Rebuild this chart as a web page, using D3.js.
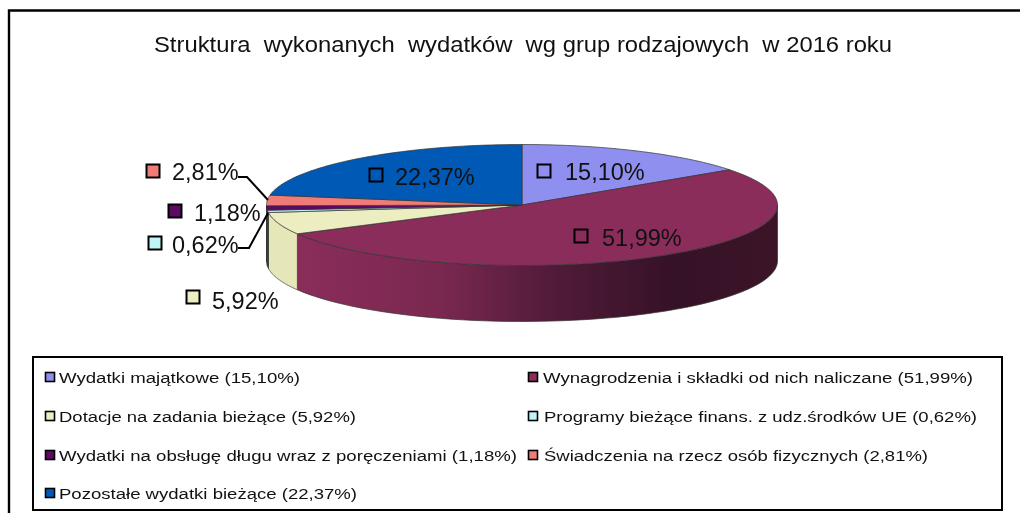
<!DOCTYPE html>
<html><head><meta charset="utf-8">
<script src="https://cdn.jsdelivr.net/npm/d3@7"></script>
<style>html,body{margin:0;background:#fff}svg{display:block;filter:blur(0.35px)}text{font-family:"Liberation Sans",Arial,sans-serif;fill:#111}</style>
</head><body><svg id="c" width="1020" height="513"></svg>
<script>
const chartTitle = "Struktura  wykonanych  wydatków  wg grup rodzajowych  w 2016 roku";
const categories = ["Wydatki majątkowe","Wynagrodzenia i składki od nich naliczane","Dotacje na zadania bieżące","Programy bieżące finans. z udz.środków UE","Wydatki na obsługę długu wraz z poręczeniami","Świadczenia na rzecz osób fizycznych","Pozostałe wydatki bieżące"];
const values = [15.10,51.99,5.92,0.62,1.18,2.81,22.37];
const valueLabels = ["15,10%","51,99%","5,92%","0,62%","1,18%","2,81%","22,37%"];
const topColors = ["#8f8ff0","#8a2d5a","#ecedc0","#bff5f8","#5c0a62","#f07c78","#0059b5"];
const wallColors = ["#6a6ab0","#8a2d5a","#e6e7b8","#556","#4a4a55","#55555f","#004a99"];

const svg = d3.select("#c");
const cx=522, cy=205, rx=255.5, ry=60.5, depth=56;
const px = d3.scaleLinear().domain([-1,1]).range([cx-rx,cx+rx]);
const py = d3.scaleLinear().domain([-1,1]).range([cy-ry,cy+ry]);
const arcs = d3.pie().sort(null).value(d=>d)(values);
const pt = a => [px(Math.sin(a)), py(-Math.cos(a))];
const rim = (a0,a1) => d3.range(0,61).map(i=>pt(a0+(a1-a0)*i/60));
const line = d3.line();

// frame: left and top only, running off the right and bottom edges
svg.append("path").attr("d","M9,513V10.5H1020").attr("fill","none").attr("stroke","#000").attr("stroke-width",2.4);
svg.append("text").attr("x",154).attr("y",52).attr("font-size",22).attr("textLength",738).attr("lengthAdjust","spacingAndGlyphs").style("white-space","pre").text(chartTitle);

// wall gradient
const defs = svg.append("defs");
const g = defs.append("linearGradient").attr("id","wall").attr("gradientUnits","userSpaceOnUse").attr("x1",296).attr("x2",778).attr("y1",0).attr("y2",0);
[[0,"#8a2d5a"],[0.3,"#7a2850"],[0.55,"#4e1a38"],[0.78,"#361226"],[1,"#3c1428"]].forEach(s=>g.append("stop").attr("offset",s[0]).attr("stop-color",s[1]));

arcs.forEach((d,i)=>{
  const a0=Math.max(d.startAngle,Math.PI/2), a1=Math.min(d.endAngle,Math.PI*1.5);
  if(a1<=a0) return;
  const top=rim(a0,a1), bot=top.map(p=>[p[0],p[1]+depth]).reverse();
  svg.append("path").attr("d",line(top.concat(bot))+"Z")
    .attr("fill", i===1?"url(#wall)":wallColors[i]).attr("stroke","#333").attr("stroke-width",0.7);
});
arcs.forEach((d,i)=>{
  svg.append("path").attr("d",line([[cx,cy]].concat(rim(d.startAngle,d.endAngle)))+"Z")
    .attr("fill",topColors[i]).attr("stroke","#333").attr("stroke-width",0.7);
});

// data labels
const lab = [[544,171,565,180],[581,236,602,246],[193,297,212,309],[155,243,172,253],[175,211,194,221],[153,171,172,180],[376,175,395,185]];
lab.forEach((l,i)=>{
  svg.append("rect").attr("x",l[0]-6.5).attr("y",l[1]-6.5).attr("width",13).attr("height",13)
    .attr("fill",topColors[i]).attr("stroke","#000").attr("stroke-width",2);
  svg.append("text").attr("x",l[2]).attr("y",l[3]).attr("font-size",23.5).text(valueLabels[i]);
});
// leader lines
[[[238,177],[247,177],[268,200]],[[238,248],[249,248],[268,213]]].forEach(p=>{
  svg.append("path").attr("d",line(p)).attr("fill","none").attr("stroke","#000").attr("stroke-width",2);
});

// legend
svg.append("rect").attr("x",33).attr("y",357).attr("width",969).attr("height",153).attr("fill","#fff").attr("stroke","#000").attr("stroke-width",2);
const legPos=[[50,377,59,300],[533,377,543,973],[50,416,59,356],[533,416,544,977],[50,455,59,517],[533,455,544,928],[50,493,59,357]];
categories.forEach((c,i)=>{
  const [x,y,tx,te]=legPos[i];
  svg.append("rect").attr("x",x-4.5).attr("y",y-4.5).attr("width",9).attr("height",9).attr("fill",topColors[i]).attr("stroke","#000").attr("stroke-width",1.6);
  svg.append("text").attr("x",tx).attr("y",y+6).attr("font-size",15.5).attr("textLength",te-tx).attr("lengthAdjust","spacingAndGlyphs").text(c+" ("+valueLabels[i]+")");
});
</script></body></html>
